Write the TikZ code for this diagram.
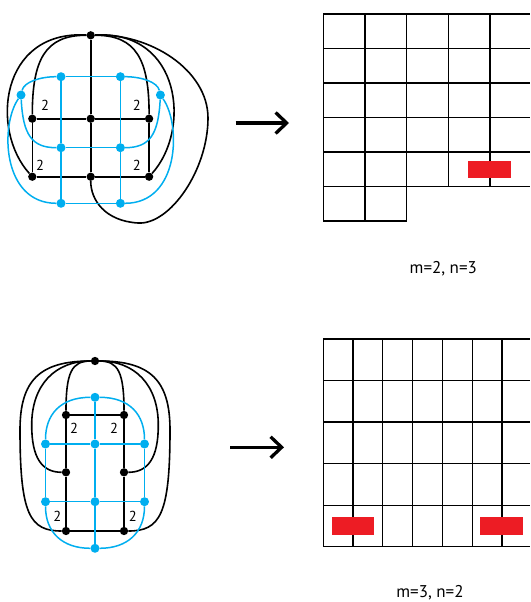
\documentclass[tikz,border=0pt]{standalone}
\usepackage{fontspec}
\setmainfont{PT Sans}
\usetikzlibrary{arrows.meta}
\definecolor{cy}{RGB}{0,174,239}
\definecolor{rd}{RGB}{237,28,36}
\begin{document}
\begin{tikzpicture}[x=1pt,y=-1pt,
 bdot/.style={circle,fill=black,inner sep=0pt,minimum size=8.3pt},
 cdot/.style={circle,fill=cy,inner sep=0pt,minimum size=9pt},
 blk/.style={line width=1.6pt,black},
 cyl/.style={line width=1.5pt,cy},
 gridline/.style={line width=1.2pt,black},
 lab/.style={font=\fontsize{14.5}{14.5}\selectfont,inner sep=0pt},
 captext/.style={font=\fontsize{17}{17}\selectfont,inner sep=0pt},
 arr/.style={line width=3.3pt,-{Straight Barb[length=11pt,width=21pt]}},
 redbox/.style={fill=rd,draw=none}]
\useasboundingbox (0,0) rectangle (530,602);

% ---------- graph 1 ----------
\node[bdot] (t) at (90.7,35.3) {};
\node[bdot] (l1) at (32.3,118.7) {};
\node[bdot] (m1) at (90.7,118.7) {};
\node[bdot] (r1) at (149.1,118.7) {};
\node[bdot] (l2) at (32.3,176.7) {};
\node[bdot] (m2) at (90.7,176.7) {};
\node[bdot] (r2) at (149.1,176.7) {};
\node[cdot] (ct1) at (61,76.7) {};
\node[cdot] (ct2) at (120.4,76.7) {};
\node[cdot] (cwl) at (21,95) {};
\node[cdot] (cwr) at (160.4,95) {};
\node[cdot] (cm1) at (61,147.7) {};
\node[cdot] (cm2) at (120.4,147.7) {};
\node[cdot] (cb1) at (61,203.3) {};
\node[cdot] (cb2) at (120.4,203.3) {};

\draw[blk] (t) -- (m1) -- (m2);
\draw[blk] (l1) -- (m1) -- (r1);
\draw[blk] (l2) -- (m2) -- (r2);
\draw[blk] (l1) -- (l2);
\draw[blk] (r1) -- (r2);
\draw[blk] (t) .. controls (45,35) and (32.3,60) .. (l1);
\draw[blk] (t) .. controls (136.4,35) and (149.1,60) .. (r1);
\draw[blk] (t) .. controls (0,30) and (-10,130) .. (l2);
\draw[blk] (t) .. controls (181.4,30) and (191.4,130) .. (r2);
\draw[blk] (t) .. controls (150,33) and (208,70) .. (208,118)
  .. controls (208,170) and (170,225) .. (138,223)
  .. controls (105,221) and (90.7,200) .. (m2);

\draw[cyl] (ct1) -- (ct2);
\draw[cyl] (cm1) -- (cm2);
\draw[cyl] (cb1) -- (cb2);
\draw[cyl] (ct1) -- (cm1) -- (cb1);
\draw[cyl] (ct2) -- (cm2) -- (cb2);
\draw[cyl] (ct1) .. controls (40,76.7) and (24,82) .. (cwl);
\draw[cyl] (cwl) .. controls (23,135) and (32,147.7) .. (cm1);
\draw[cyl] (cwl) .. controls (0,125) and (2,203.3) .. (cb1);
\draw[cyl] (ct2) .. controls (141.4,76.7) and (157.4,82) .. (cwr);
\draw[cyl] (cwr) .. controls (158.4,135) and (149.4,147.7) .. (cm2);
\draw[cyl] (cwr) .. controls (181.4,125) and (179.4,203.3) .. (cb2);

\node[lab] (n11) at (45,105) {2};
\node[lab] (n12) at (136.7,105) {2};
\node[lab] (n13) at (40,165) {2};
\node[lab] (n14) at (136.7,165) {2};

% ---------- graph 2 ----------
\node[bdot] (u) at (95,361) {};
\node[bdot] (a1) at (66,415) {};
\node[bdot] (a2) at (124,415) {};
\node[bdot] (k1) at (66,472.3) {};
\node[bdot] (k2) at (124,472.3) {};
\node[bdot] (b1) at (66,531) {};
\node[bdot] (b2) at (124,531) {};
\node[cdot] (c0) at (95,397.3) {};
\node[cdot] (d1) at (45.5,444) {};
\node[cdot] (d2) at (95,444) {};
\node[cdot] (d3) at (144.5,444) {};
\node[cdot] (e1) at (45.5,501.7) {};
\node[cdot] (e2) at (95,501.7) {};
\node[cdot] (e3) at (144.5,501.7) {};
\node[cdot] (f0) at (95,548.3) {};

\draw[blk] (a1) -- (a2);
\draw[blk] (b1) -- (b2);
\draw[blk] (a1) -- (k1) -- (b1);
\draw[blk] (a2) -- (k2) -- (b2);
\draw[blk] (u) .. controls (72,361) and (66,372) .. (a1);
\draw[blk] (u) .. controls (118,361) and (124,372) .. (a2);
\draw[blk] (u) .. controls (55,361) and (31.7,385) .. (31.7,425)
  .. controls (31.7,458) and (42,472.3) .. (k1);
\draw[blk] (u) .. controls (135,361) and (158.3,385) .. (158.3,425)
  .. controls (158.3,458) and (148,472.3) .. (k2);
\draw[blk] (u) .. controls (40,361) and (20,380) .. (20,430)
  .. controls (20,515) and (30,531) .. (b1);
\draw[blk] (u) .. controls (150,361) and (170,380) .. (170,430)
  .. controls (170,515) and (160,531) .. (b2);

\draw[cyl] (c0) -- (d2) -- (e2) -- (f0);
\draw[cyl] (d1) -- (d2) -- (d3);
\draw[cyl] (e1) -- (e2) -- (e3);
\draw[cyl] (d1) -- (e1);
\draw[cyl] (d3) -- (e3);
\draw[cyl] (c0) .. controls (60,397.3) and (45.5,415) .. (d1);
\draw[cyl] (c0) .. controls (130,397.3) and (144.5,415) .. (d3);
\draw[cyl] (e1) .. controls (45.5,532) and (62,548.3) .. (f0);
\draw[cyl] (e3) .. controls (144.5,532) and (128,548.3) .. (f0);

\node[lab] (n21) at (74,428.3) {2};
\node[lab] (n22) at (114,428.3) {2};
\node[lab] (n23) at (57.3,516.7) {2};
\node[lab] (n24) at (132.7,516.7) {2};

% ---------- arrows ----------
\coordinate (a1s) at (235.7,123);
\coordinate (a1e) at (289,123);
\draw[arr] (a1s) -- (a1e);
\coordinate (a2s) at (230,447.3);
\coordinate (a2e) at (284,447.3);
\draw[arr] (a2s) -- (a2e);

% ---------- grid 1 ----------
\foreach \k in {0,1,2} \draw[gridline] ({323.3+\k*41.67},14) -- ({323.3+\k*41.67},221);
\foreach \k in {3,4} \draw[gridline] ({323.3+\k*41.67},14) -- ({323.3+\k*41.67},186.5);
\foreach \j in {0,...,5} \draw[gridline] (323.3,{14+\j*34.5}) -- (530,{14+\j*34.5});
\draw[gridline] (323.3,221) -- (406.6,221);
\fill[redbox] (468.3,160.7) rectangle (511,178.3);

% ---------- grid 2 ----------
\foreach \k in {0,...,6} \draw[gridline] ({323.3+\k*29.78},339) -- ({323.3+\k*29.78},546.7);
\foreach \j in {0,...,5} \draw[gridline] (323.3,{339+\j*41.54}) -- (530,{339+\j*41.54});
\fill[redbox] (331.7,517.3) rectangle (374.3,534.7);
\fill[redbox] (480.3,517.3) rectangle (523,534.7);

\node[captext] (cap1) at (443.3,269) {m=2, n=3};
\node[captext] (cap2) at (430,592.5) {m=3, n=2};
\end{tikzpicture}
\end{document}
